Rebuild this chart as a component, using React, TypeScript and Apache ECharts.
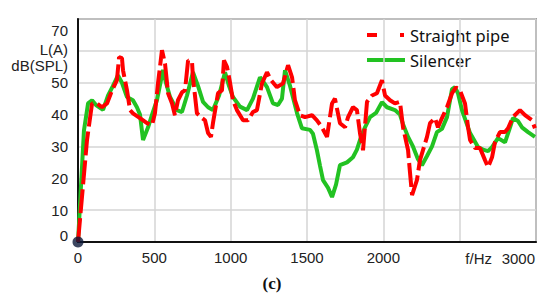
import React, { useEffect, useRef } from "react";
import * as echarts from "echarts";

const silencerFreq = [0, 39, 66, 92, 118, 164, 197, 229, 262, 288, 321, 360, 386, 406, 426, 459, 485, 517, 557, 576, 603, 648, 681, 714, 753, 786, 819, 852, 884, 924, 963, 989, 1015, 1061, 1107, 1146, 1192, 1218, 1238, 1277, 1310, 1336, 1356, 1389, 1435, 1467, 1520, 1539, 1565, 1585, 1605, 1638, 1664, 1690, 1716, 1762, 1801, 1827, 1847, 1880, 1913, 1952, 1991, 2024, 2076, 2109, 2129, 2162, 2194, 2227, 2253, 2286, 2319, 2351, 2384, 2417, 2450, 2469, 2489, 2515, 2568, 2620, 2653, 2686, 2712, 2751, 2797, 2830, 2849, 2882, 2908, 2948, 2993];
const silencerLevel = [0, 35, 43.5, 44.5, 43, 41.5, 46, 49, 52.3, 50, 45.5, 44.5, 42.3, 40, 32, 36, 40, 44.5, 54, 50, 45.5, 41.4, 40.8, 46, 53.3, 49, 44, 42.3, 41.4, 46, 53.3, 49, 45.5, 42.5, 41.4, 45, 51.7, 50, 48.6, 43.5, 43, 45, 53.9, 49, 40.4, 35.7, 35.2, 34, 28.8, 24, 19.4, 17, 14.1, 18, 24.1, 25, 26.6, 29, 32, 36, 39.2, 40.5, 43.9, 42.3, 41.4, 40, 37, 33, 30, 26, 24.1, 27, 30, 34.5, 35.5, 39.2, 48, 48.6, 46.7, 41.4, 34.2, 29.8, 29, 28.5, 29.8, 32.6, 31.3, 36, 38.9, 38, 36, 34.5, 33];

const pipeFreq = [0, 59, 92, 124, 157, 190, 223, 255, 269, 288, 295, 321, 341, 360, 406, 452, 485, 504, 524, 550, 570, 590, 616, 635, 655, 681, 701, 721, 747, 753, 779, 812, 832, 852, 871, 884, 917, 943, 956, 976, 996, 1015, 1041, 1081, 1114, 1146, 1172, 1205, 1238, 1264, 1303, 1343, 1376, 1402, 1421, 1454, 1487, 1533, 1565, 1598, 1631, 1664, 1683, 1716, 1749, 1769, 1801, 1827, 1847, 1867, 1893, 1926, 1958, 1991, 2011, 2044, 2076, 2109, 2129, 2162, 2175, 2188, 2220, 2240, 2286, 2306, 2338, 2358, 2384, 2417, 2450, 2476, 2502, 2535, 2555, 2568, 2600, 2633, 2666, 2686, 2712, 2731, 2764, 2797, 2817, 2849, 2895, 2928, 2974, 2993];
const pipeLevel = [0, 32, 43.5, 43.5, 42.3, 43.5, 47.6, 50.8, 58, 57.7, 53.9, 47.6, 41.4, 40.4, 38.9, 37.3, 36.7, 40.4, 49.8, 60.2, 56, 46.7, 43.5, 39.8, 44.5, 47, 47.6, 57, 56.4, 51.7, 40.4, 38.9, 38.2, 34.2, 33, 37.3, 46.7, 47.6, 57, 55, 50, 44.5, 41.4, 38.2, 38.2, 40.8, 41.4, 49.8, 53.3, 50.8, 48.6, 49.8, 55.5, 51.7, 44.5, 39.8, 39.2, 39.8, 38.2, 36, 33, 43.5, 45, 37.3, 36, 39.2, 42.3, 41.4, 34.2, 28.8, 44, 46, 46.7, 50.8, 46, 44.5, 43.5, 44, 36, 28.8, 21.6, 14.7, 19.4, 25.7, 33, 37.3, 38.9, 36, 38.9, 42.3, 46.7, 48.5, 47.6, 43.5, 36, 32, 29.5, 29.5, 25.7, 23.5, 26.6, 31.3, 34.5, 34.5, 35.7, 39.2, 41.4, 39.8, 38.2, 35.7];

const xTicks = [0, 500, 1000, 1500, 2000];
const yTicks = [10, 20, 30, 40, 50];
const seriesNames = ["Straight pipe", "Silencer"];

const GREEN = "#22c222";
const RED = "#ff0000";

export default function App() {
  const ref = useRef<HTMLDivElement>(null);
  useEffect(() => {
    if (!ref.current) return;
    const chart = echarts.init(ref.current, null, { renderer: "svg" });
    const silencer = silencerFreq.map((f, i) => [f, silencerLevel[i]]);
    const pipe = pipeFreq.map((f, i) => [f, pipeLevel[i]]);
    const axisFont = { fontFamily: "Liberation Sans", fontSize: 15, color: "#222" };
    chart.setOption({
      animation: false,
      backgroundColor: "#fff",
      grid: {
        left: 78,
        right: 14,
        top: 19,
        bottom: 64,
        show: true,
        borderColor: "#555",
        borderWidth: 1.5,
      },
      xAxis: {
        type: "value",
        min: 0,
        max: 3000,
        interval: 500,
        axisLine: { show: true, lineStyle: { color: "#111", width: 2 } },
        axisTick: { show: false },
        splitLine: { show: true, lineStyle: { color: "#d4d4d4", width: 1.5 } },
        axisLabel: {
          ...axisFont,
          margin: 8,
          formatter: (v: number) => (xTicks.includes(v) ? String(v) : ""),
        },
      },
      yAxis: {
        type: "value",
        min: 0,
        max: 70,
        interval: 10,
        axisLine: { show: true, lineStyle: { color: "#111", width: 2 } },
        axisTick: { show: false },
        splitLine: { show: true, lineStyle: { color: "#d4d4d4", width: 1.5 } },
        axisLabel: {
          ...axisFont,
          margin: 10,
          formatter: (v: number) => (yTicks.includes(v) ? String(v) : ""),
        },
      },
      series: [
        {
          name: seriesNames[1],
          type: "line",
          data: silencer,
          showSymbol: false,
          smooth: false,
          lineStyle: { color: GREEN, width: 4 },
          z: 2,
        },
        {
          name: seriesNames[0],
          type: "line",
          data: pipe,
          showSymbol: false,
          lineStyle: { color: RED, width: 4, type: [24, 5] },
          z: 3,
        },
        {
          type: "scatter",
          data: [[0, 0]],
          symbolSize: 11,
          itemStyle: { color: "#0b1838" },
          z: 5,
        },
      ],
      graphic: [
        { type: "text", x: 68, y: 30, style: { text: "70", align: "right", verticalAlign: "middle", ...axisFont, fill: "#222" } },
        { type: "text", x: 68, y: 49, style: { text: "L(A)", align: "right", verticalAlign: "middle", ...axisFont, fill: "#222" } },
        { type: "text", x: 68, y: 65, style: { text: "dB(SPL)", align: "right", verticalAlign: "middle", ...axisFont, fill: "#222" } },
        { type: "text", x: 68, y: 235, style: { text: "0", align: "right", verticalAlign: "middle", ...axisFont, fill: "#222" } },
        { type: "text", x: 535, y: 258, style: { text: "3000", align: "right", verticalAlign: "middle", ...axisFont, fill: "#222" } },
        { type: "text", x: 492, y: 258, style: { text: "f/Hz", align: "right", verticalAlign: "middle", ...axisFont, fill: "#222" } },
        { type: "line", shape: { x1: 367, y1: 35, x2: 377, y2: 35 }, style: { stroke: RED, lineWidth: 4 } },
        { type: "line", shape: { x1: 400, y1: 35, x2: 404, y2: 35 }, style: { stroke: RED, lineWidth: 4 } },
        { type: "line", shape: { x1: 367, y1: 60, x2: 405, y2: 60 }, style: { stroke: GREEN, lineWidth: 4 } },
        { type: "text", x: 410, y: 35, style: { text: seriesNames[0], verticalAlign: "middle", fontFamily: "Noto Sans", fontSize: 16.5, fill: "#111" } },
        { type: "text", x: 410, y: 60, style: { text: seriesNames[1], verticalAlign: "middle", fontFamily: "Noto Sans", fontSize: 16.5, fill: "#111" } },
        { type: "text", x: 272, y: 283, style: { text: "(c)", align: "center", verticalAlign: "middle", fontFamily: "Liberation Serif", fontSize: 17, fontWeight: "bold", fill: "#111" } },
      ],
    });
    return () => chart.dispose();
  }, []);
  return <div ref={ref} style={{ width: 550, height: 306, position: "absolute", left: 0, top: 0 }} />;
}
